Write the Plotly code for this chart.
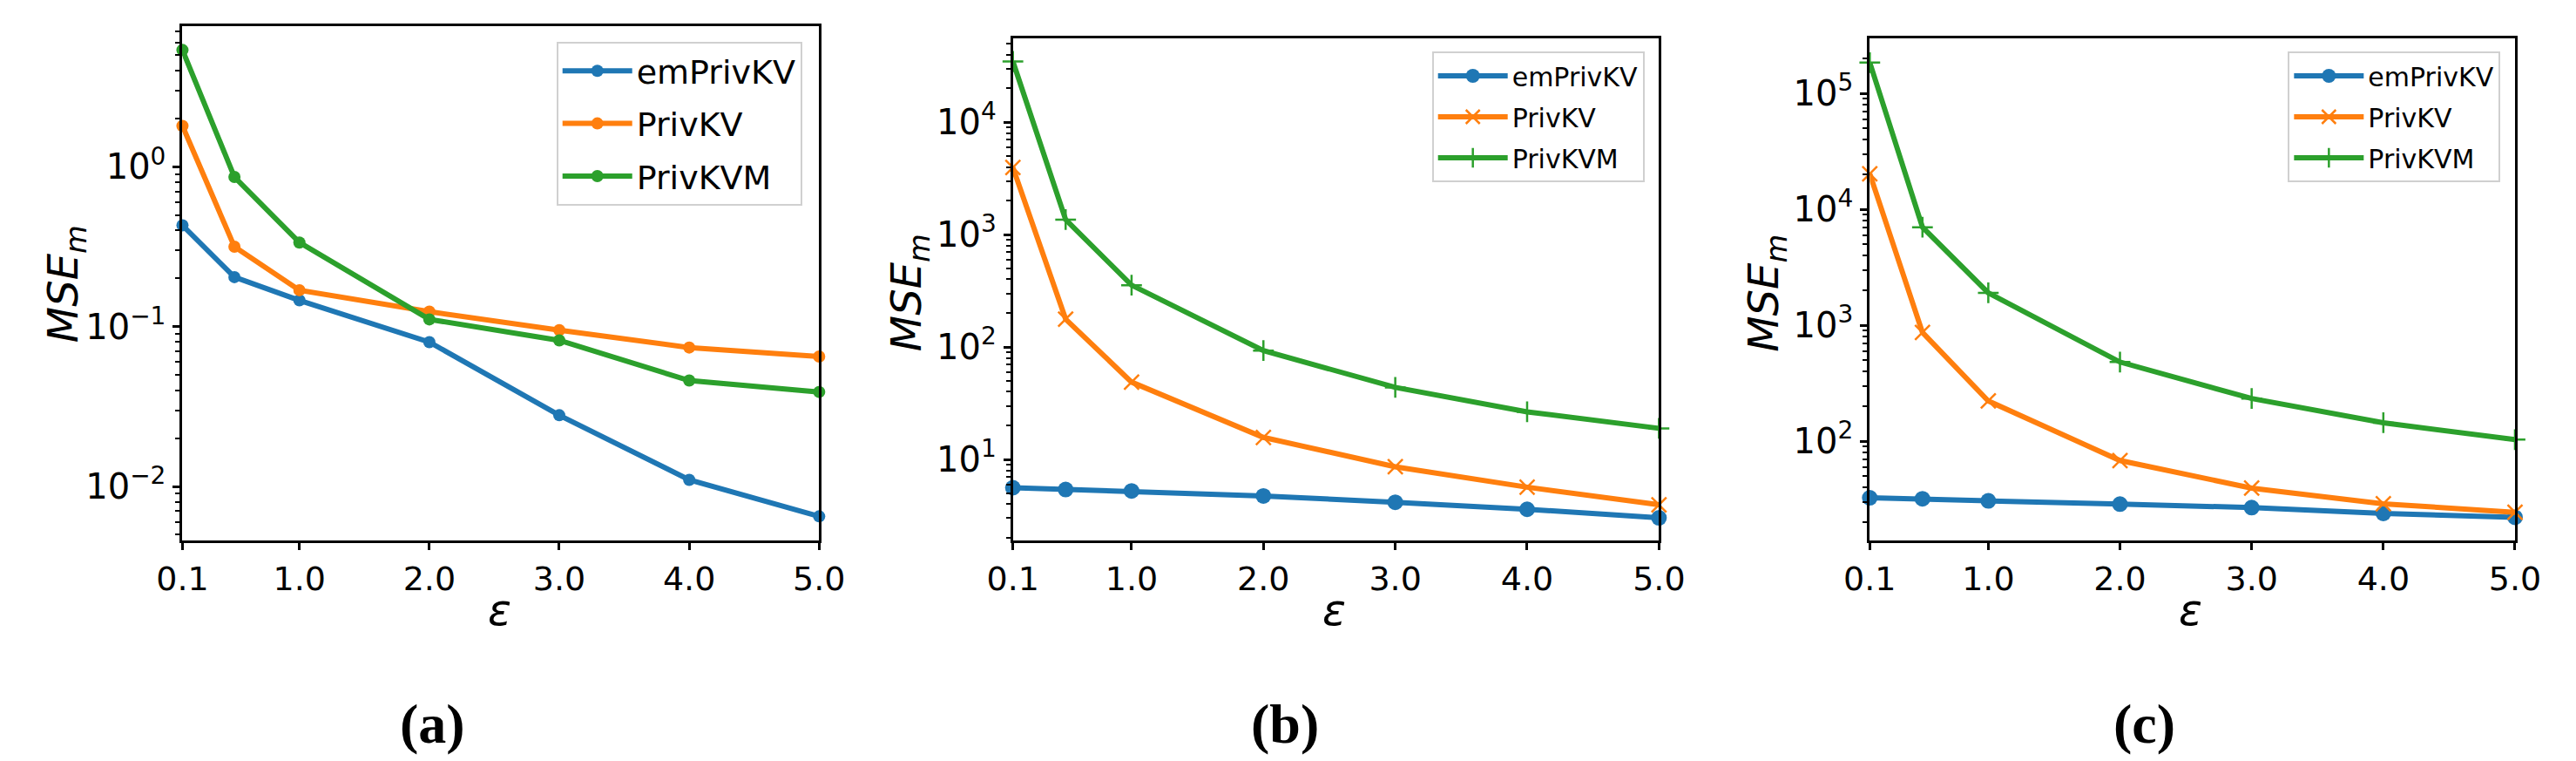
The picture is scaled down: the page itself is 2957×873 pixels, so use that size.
import plotly.graph_objects as go

W, H = 2957, 873

eps = [0.1, 0.5, 1.0, 2.0, 3.0, 4.0, 5.0]
x_tick_vals = [0.1, 1.0, 2.0, 3.0, 4.0, 5.0]
x_tick_text = ["0.1", "1.0", "2.0", "3.0", "4.0", "5.0"]
series_names = ["emPrivKV", "PrivKV", "PrivKVM"]

# panel (a)
a_em = [0.43, 0.204, 0.146, 0.080, 0.0279, 0.011, 0.0065]
a_pkv = [1.80, 0.316, 0.169, 0.124, 0.095, 0.074, 0.065]
a_pkvm = [5.38, 0.863, 0.336, 0.111, 0.082, 0.046, 0.039]
# panel (b)
b_em = [5.6, 5.4, 5.24, 4.73, 4.16, 3.6, 3.02]
b_pkv = [3950, 177, 48.7, 15.7, 8.6, 5.66, 3.95]
b_pkvm = [34700, 1360, 355, 93, 43.7, 26.5, 18.9]
# panel (c)
c_em = [32.4, 31.8, 30.5, 28.6, 26.7, 23.8, 22.0]
c_pkv = [20200, 865, 222, 68, 39.3, 28.8, 24.3]
c_pkvm = [184000, 7000, 1900, 481, 233, 144, 103]

a_ticks = [-2, -1, 0]
b_ticks = [1, 2, 3, 4]
c_ticks = [2, 3, 4, 5]
captions = ["(a)", "(b)", "(c)"]

COLORS = ["#1f77b4", "#ff7f0e", "#2ca02c"]
FONT = "DejaVu Sans"


def px_x(x):
    return x / W


def px_y(y):
    return 1 - y / H


# layout geometry in pixels: (left, right, top, bottom)
panels = [
    dict(box=(175, 921, 22, 612), yrange=[-2.338, 0.88], ticks=a_ticks,
         data=[a_em, a_pkv, a_pkvm], legend=(901, 40), legfs=38, leggap=8,
         markers=[("circle", 14), ("circle", 14), ("circle", 14)],
         ylab=(38, 318), xlab=(547, 692), cap=(468, 822)),
    dict(box=(1148, 1905, 36, 612), yrange=[0.279, 4.746], ticks=b_ticks,
         data=[b_em, b_pkv, b_pkvm], legend=(1888, 51), legfs=30, leggap=5,
         markers=[("circle", 18), ("x-thin", 17), ("cross-thin", 17)],
         ylab=(1026, 328), xlab=(1524, 692), cap=(1467, 822)),
    dict(box=(2152, 2908, 36, 612), yrange=[1.143, 5.474], ticks=c_ticks,
         data=[c_em, c_pkv, c_pkvm], legend=(2891, 51), legfs=30, leggap=5,
         markers=[("circle", 18), ("x-thin", 17), ("cross-thin", 17)],
         ylab=(2030, 328), xlab=(2528, 692), cap=(2474, 822)),
]

fig = go.Figure()
annotations = []
layout_axes = {}


def sup(e):
    s = str(e).replace("-", "\u2212")
    return f"10<sup>{s}</sup>"


for i, p in enumerate(panels):
    n = i + 1
    xa = "x" if n == 1 else f"x{n}"
    ya = "y" if n == 1 else f"y{n}"
    leg = "legend" if n == 1 else f"legend{n}"
    for k in range(3):
        sym, size = p["markers"][k]
        thin = sym.endswith("thin")
        fig.add_trace(go.Scatter(
            x=eps, y=p["data"][k], name=series_names[k], mode="lines+markers",
            xaxis=xa, yaxis=ya, legend=leg, legendgroup=f"{n}-{k}",
            cliponaxis=False,
            line=dict(color=COLORS[k], width=6),
            marker=dict(symbol=sym, size=size, color=COLORS[k],
                        line=dict(color=COLORS[k], width=2.5 if thin else 0)),
        ))
    l, r, t, b = p["box"]
    lo, hi = p["yrange"]
    minor_vals = [m * 10 ** d for d in range(int(lo) - 2, int(hi) + 2) for m in range(2, 10)]
    layout_axes[("xaxis" if n == 1 else f"xaxis{n}")] = dict(
        domain=[px_x(l), px_x(r)], anchor=ya, range=[0.1, 5.0],
        tickmode="array", tickvals=x_tick_vals, ticktext=x_tick_text,
        ticks="outside", ticklen=8, tickwidth=2.5, tickcolor="black",
        showline=True, linecolor="black", linewidth=3, mirror=True,
        showgrid=False, zeroline=False,
        tickfont=dict(family=FONT, size=38, color="black"),
    )
    layout_axes[("yaxis" if n == 1 else f"yaxis{n}")] = dict(
        domain=[px_y(b), px_y(t)], anchor=xa, type="log", range=[lo, hi],
        tickmode="array", tickvals=[10 ** e for e in p["ticks"]],
        ticktext=[sup(e) for e in p["ticks"]],
        ticks="outside", ticklen=8, tickwidth=2.5, tickcolor="black",
        minor=dict(tickmode="array", tickvals=minor_vals, ticks="outside",
                   ticklen=5, tickwidth=2, tickcolor="black", showgrid=False),
        showline=True, linecolor="black", linewidth=3, mirror=True,
        showgrid=False, zeroline=False,
        tickfont=dict(family=FONT, size=40, color="black"),
    )
    lx, ly = p["legend"]
    layout_axes[leg] = dict(
        x=px_x(lx), y=px_y(ly), xanchor="right", yanchor="top",
        xref="paper", yref="paper",
        bgcolor="white", bordercolor="#d0d0d0", borderwidth=2,
        font=dict(family=FONT, size=p["legfs"], color="black"),
        itemwidth=80, tracegroupgap=p["leggap"], traceorder="grouped",
    )
    annotations.append(dict(
        x=px_x(p["ylab"][0]), y=px_y(p["ylab"][1]), xref="paper", yref="paper",
        text="<i>MSE</i><sub><i>m</i></sub>", textangle=-90, showarrow=False,
        font=dict(family=FONT, size=48, color="black"),
        xanchor="center", yanchor="middle"))
    annotations.append(dict(
        x=px_x(p["xlab"][0]), y=px_y(p["xlab"][1]), xref="paper", yref="paper",
        text="<i>ε</i>", showarrow=False,
        font=dict(family=FONT, size=50, color="black"),
        xanchor="center", yanchor="middle"))
    annotations.append(dict(
        x=px_x(p["cap"][0]), y=px_y(p["cap"][1]), xref="paper", yref="paper",
        text=f"<b>{captions[i]}</b>", showarrow=False,
        font=dict(family="Liberation Serif", size=64, color="black"),
        xanchor="center", yanchor="middle"))

fig.update_layout(
    width=W, height=H, margin=dict(l=0, r=0, t=0, b=0),
    paper_bgcolor="white", plot_bgcolor="white",
    showlegend=True, annotations=annotations, **layout_axes,
)

fig.write_html("out.html")
